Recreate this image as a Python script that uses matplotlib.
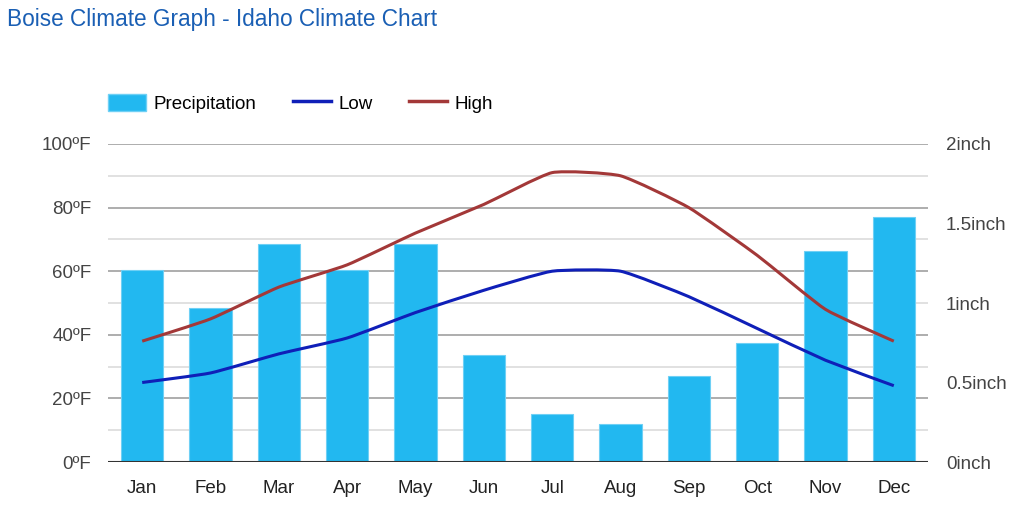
import matplotlib
matplotlib.use("Agg")
import matplotlib.pyplot as plt
from matplotlib.path import Path
from matplotlib.patches import PathPatch, Patch
from matplotlib.lines import Line2D
import numpy as np

plt.rcParams['font.family'] = ['Liberation Sans', 'DejaVu Sans']

months = ['Jan', 'Feb', 'Mar', 'Apr', 'May', 'Jun', 'Jul', 'Aug', 'Sep', 'Oct', 'Nov', 'Dec']
precip = [1.21, 0.97, 1.37, 1.21, 1.37, 0.67, 0.30, 0.24, 0.54, 0.75, 1.33, 1.54]
low = [25, 28, 34, 39, 47, 54, 60, 60, 52, 42, 32, 24]
high = [38, 45, 55, 62, 72, 81, 91, 90, 80, 65, 48, 38]

temp_ticks = [0, 20, 40, 60, 80, 100]
temp_labels = ['0ºF', '20ºF', '40ºF', '60ºF', '80ºF', '100ºF']
rain_ticks = [0, 0.5, 1, 1.5, 2]
rain_labels = ['0inch', '0.5inch', '1inch', '1.5inch', '2inch']

c_bar = '#22b8f0'
c_low = '#0f1fb8'
c_high = '#a33838'
c_text = '#444444'


def smooth_path(xs, ys, k=0.08):
    # light bezier smoothing, like google's curveType 'function'
    xs = np.asarray(xs, float)
    ys = np.asarray(ys, float)
    verts = [(xs[0], ys[0])]
    codes = [Path.MOVETO]
    n = len(xs)
    for i in range(n - 1):
        p0 = i - 1 if i > 0 else i
        p3 = i + 2 if i + 2 < n else i + 1
        c1 = (xs[i] + (xs[i + 1] - xs[p0]) * k, ys[i] + (ys[i + 1] - ys[p0]) * k)
        c2 = (xs[i + 1] - (xs[p3] - xs[i]) * k, ys[i + 1] - (ys[p3] - ys[i]) * k)
        verts += [c1, c2, (xs[i + 1], ys[i + 1])]
        codes += [Path.CURVE4] * 3
    return Path(verts, codes)


fig = plt.figure(figsize=(10.23, 5.24), dpi=100)
pos = [0.1056, 0.1183, 0.8015, 0.6069]

# background axis just for the gridlines, so they sit behind the bars
bg = fig.add_axes(pos, zorder=-5)
bg.set_xlim(-0.5, 11.5)
bg.set_ylim(0, 100)
for yv in range(10, 100, 20):
    bg.axhline(yv, color='#dcdcdc', lw=1.2)
for yv in range(20, 101, 20):
    bg.axhline(yv, color='#a0a0a0', lw=1.2)
bg.axis('off')

ax = fig.add_axes(pos)
ax2 = ax.twinx()

x = np.arange(len(months))

# bars on right axis (inch)
ax2.bar(x, precip, width=0.62, color=c_bar, edgecolor='#6fd0f5', linewidth=0.8, zorder=2)
ax2.set_ylim(0, 2)
ax2.set_yticks(rain_ticks)
ax2.set_yticklabels(rain_labels)

# temperature lines on left axis
ax.set_ylim(0, 100)
ax.set_xlim(-0.5, 11.5)
ax.axhline(0, color='#333333', lw=1.5, zorder=5)
ax.set_zorder(ax2.get_zorder() + 1)
ax.patch.set_visible(False)
ax2.patch.set_visible(False)

ax.add_patch(PathPatch(smooth_path(x, low), fill=False, edgecolor=c_low, lw=2.2, zorder=4))
ax.add_patch(PathPatch(smooth_path(x, high), fill=False, edgecolor=c_high, lw=2.2, zorder=4))

ax.set_yticks(temp_ticks)
ax.set_yticklabels(temp_labels)
ax.set_xticks(x)
ax.set_xticklabels(months)

for a in (ax, ax2):
    for s in a.spines.values():
        s.set_visible(False)
    a.tick_params(length=0, labelsize=13.5, labelcolor=c_text)
ax.tick_params(axis='y', pad=12)
ax.tick_params(axis='x', pad=13, labelcolor='#222222')
ax2.tick_params(axis='y', pad=13)

handles = [Patch(facecolor=c_bar, edgecolor='#6fd0f5', label='Precipitation'),
           Line2D([], [], color=c_low, lw=2.5, label='Low'),
           Line2D([], [], color=c_high, lw=2.5, label='High')]
fig.legend(handles=handles, loc='center left', bbox_to_anchor=(0.1056, 0.803), ncol=3,
           frameon=False, fontsize=13.5, handlelength=2.0, handleheight=1.0,
           handletextpad=0.43, columnspacing=1.95, borderpad=0, borderaxespad=0)

fig.text(0.007, 0.962, 'Boise Climate Graph - Idaho Climate Chart', color='#1a5fb4',
         fontsize=16.3, va='center', ha='left')

fig.savefig('out.png', dpi=100, facecolor='white')
